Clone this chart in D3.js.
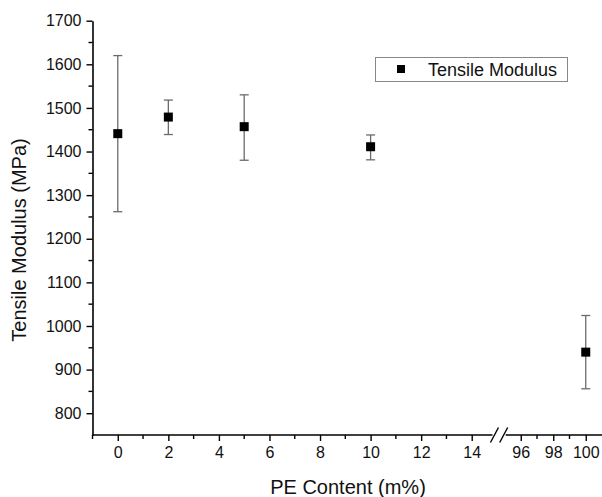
<!DOCTYPE html>
<html>
<head>
<meta charset="utf-8">
<script src="https://cdn.jsdelivr.net/npm/d3@7"></script>
<style>
  html, body { margin: 0; padding: 0; background: #fff; }
  svg { display: block; }
</style>
</head>
<body>
<div id="chart"></div>
<script>
// ── Data
const peContent = [0, 2, 5, 10, 100];
const modulus   = [1441, 1479, 1457, 1411, 940];
const errUpper  = [1620, 1518, 1530, 1438, 1024];
const errLower  = [1262, 1439, 1380, 1381, 856];

const xTicksLeft  = [0, 2, 4, 6, 8, 10, 12, 14];
const xTicksRight = [96, 98, 100];
const yTicks      = [800, 900, 1000, 1100, 1200, 1300, 1400, 1500, 1600, 1700];

const W = 602, H = 497;
const FONT = 'Liberation Sans, Arial, sans-serif';
const AXIS_Y = 435;
const fmt = d3.format('d');

const svg = d3.select('#chart').append('svg')
  .attr('width', W).attr('height', H);

// Broken x axis: two linear pieces
const xLeft  = d3.scaleLinear().domain([-1, 15]).range([92.5, 497]);
const xRight = d3.scaleLinear().domain([95, 101]).range([504.5, 602]);
const x = v => (v <= 15 ? xLeft(v) : xRight(v));

const y = d3.scaleLinear().domain([750, 1700]).range([AXIS_Y, 20.7]);

// ── Y axis
const yAxis = d3.axisLeft(y)
  .tickValues(yTicks)
  .tickFormat(fmt)
  .tickSize(6)
  .tickSizeOuter(0)
  .tickPadding(5);

const gy = svg.append('g')
  .attr('transform', `translate(${xLeft(-1)},0)`)
  .call(yAxis);
gy.select('.domain').attr('stroke', '#000').attr('stroke-width', 1.6);
gy.selectAll('.tick line').attr('stroke', '#000').attr('stroke-width', 1.4);
gy.selectAll('.tick text')
  .attr('font-family', FONT).attr('font-size', '16px').attr('fill', '#111');

// y minor ticks
gy.selectAll('.minor')
  .data(d3.range(850, 1700, 100))
  .enter().append('line')
  .attr('x1', -4).attr('x2', 0)
  .attr('y1', d => y(d)).attr('y2', d => y(d))
  .attr('stroke', '#000').attr('stroke-width', 1.4);

// ── X axis, left piece
const breakL = xLeft(14.9), breakR = xRight(94.95);
const gxl = svg.append('g')
  .attr('transform', `translate(0,${AXIS_Y})`)
  .call(d3.axisBottom(xLeft).tickValues(xTicksLeft).tickFormat(fmt)
    .tickSize(6).tickSizeOuter(0).tickPadding(6));
gxl.select('.domain').attr('d', `M${xLeft(-1)},0H${breakL - 2}`)
  .attr('stroke', '#000').attr('stroke-width', 1.6);

// ── X axis, right piece
const gxr = svg.append('g')
  .attr('transform', `translate(0,${AXIS_Y})`)
  .call(d3.axisBottom(xRight).tickValues(xTicksRight).tickFormat(fmt)
    .tickSize(6).tickSizeOuter(0).tickPadding(6));
gxr.select('.domain').attr('d', `M${breakR + 2},0H${xRight(101)}`)
  .attr('stroke', '#000').attr('stroke-width', 1.6);

[gxl, gxr].forEach(g => {
  g.selectAll('.tick line').attr('stroke', '#000').attr('stroke-width', 1.4);
  g.selectAll('.tick text')
    .attr('font-family', FONT).attr('font-size', '16px').attr('fill', '#111');
});

// x minor ticks
const xMinor = [-1, 1, 3, 5, 7, 9, 11, 13, 97, 99];
svg.append('g').selectAll('line')
  .data(xMinor)
  .enter().append('line')
  .attr('x1', d => x(d)).attr('x2', d => x(d))
  .attr('y1', AXIS_Y).attr('y2', AXIS_Y + 4)
  .attr('stroke', '#000').attr('stroke-width', 1.4);

// break marks "//"
svg.append('g').selectAll('line')
  .data([breakL, breakR])
  .enter().append('line')
  .attr('x1', d => d - 4).attr('y1', AXIS_Y + 7.5)
  .attr('x2', d => d + 4).attr('y2', AXIS_Y - 7.5)
  .attr('stroke', '#000').attr('stroke-width', 1.4);

// ── Error bars
const pts = peContent.map((p, i) => ({ p, v: modulus[i], hi: errUpper[i], lo: errLower[i] }));
const eb = svg.append('g').attr('stroke', '#6b6b6b').attr('stroke-width', 1.3);
pts.forEach(d => {
  const cx = x(d.p);
  eb.append('line').attr('x1', cx).attr('x2', cx).attr('y1', y(d.hi)).attr('y2', y(d.lo));
  eb.append('line').attr('x1', cx - 4.5).attr('x2', cx + 4.5).attr('y1', y(d.hi)).attr('y2', y(d.hi));
  eb.append('line').attr('x1', cx - 4.5).attr('x2', cx + 4.5).attr('y1', y(d.lo)).attr('y2', y(d.lo));
});

// ── Markers
const MS = 9;
svg.append('g').selectAll('rect')
  .data(pts)
  .enter().append('rect')
  .attr('x', d => x(d.p) - MS / 2)
  .attr('y', d => y(d.v) - MS / 2)
  .attr('width', MS).attr('height', MS)
  .attr('fill', '#000');

// ── Axis titles
svg.append('text')
  .attr('transform', 'translate(26,240) rotate(-90)')
  .attr('text-anchor', 'middle')
  .attr('font-family', FONT).attr('font-size', '20px').attr('fill', '#111')
  .text('Tensile Modulus (MPa)');

svg.append('text')
  .attr('x', 348).attr('y', 494)
  .attr('text-anchor', 'middle')
  .attr('font-family', FONT).attr('font-size', '20px').attr('fill', '#111')
  .text('PE Content (m%)');

// ── Legend
const lg = svg.append('g');
lg.append('rect')
  .attr('x', 375.5).attr('y', 57.5)
  .attr('width', 192).attr('height', 24)
  .attr('fill', '#fff').attr('stroke', '#888').attr('stroke-width', 1);
lg.append('rect')
  .attr('x', 401 - 4).attr('y', 69 - 4)
  .attr('width', 8).attr('height', 8)
  .attr('fill', '#000');
lg.append('text')
  .attr('x', 428).attr('y', 76)
  .attr('font-family', FONT).attr('font-size', '18px').attr('fill', '#111')
  .text('Tensile Modulus');
</script>
</body>
</html>
